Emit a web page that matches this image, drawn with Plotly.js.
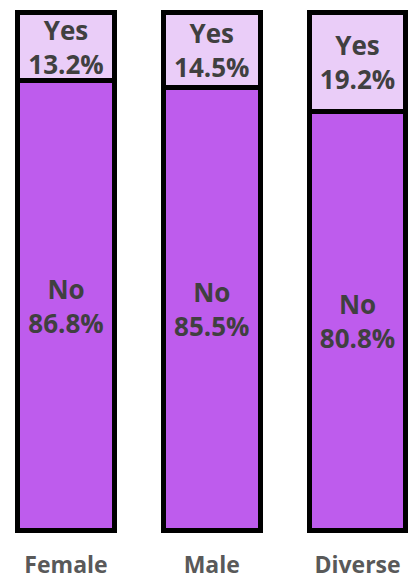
<!DOCTYPE html>
<html>
<head>
<meta charset="utf-8">
<script src="https://cdn.plot.ly/plotly-3.0.1.min.js"></script>
<style>html,body{margin:0;padding:0;background:#fff;}#chart{width:417px;height:581px;}</style>
</head>
<body>
<div id="chart"></div>
<script>
const categories = ["Female", "Male", "Diverse"];
const noValues = [86.8, 85.5, 80.8];
const yesValues = [13.2, 14.5, 19.2];
const noLabel = "No";
const yesLabel = "Yes";

const fmt = v => v.toFixed(1) + "%";
const common = {
  type: "bar",
  x: categories,
  width: 0.665,
  textposition: "inside",
  insidetextanchor: "middle",
  constraintext: "none",
  textangle: 0,
  hoverinfo: "none",
  textfont: {family: "Open Sans, sans-serif", size: 26, color: "#404040", weight: 700}
};
const traces = [
  Object.assign({}, common, {
    name: noLabel,
    y: noValues,
    text: noValues.map(v => noLabel + "<br>" + fmt(v)),
    marker: {color: "#BE5CED", line: {color: "#000000", width: 5}}
  }),
  Object.assign({}, common, {
    name: yesLabel,
    y: yesValues,
    text: yesValues.map(v => yesLabel + "<br>" + fmt(v)),
    marker: {color: "#EACDF8", line: {color: "#000000", width: 5}}
  })
];
const layout = {
  width: 417, height: 581,
  margin: {l: 0, r: 0, t: 10, b: 48, pad: 0},
  barmode: "stack",
  showlegend: false,
  paper_bgcolor: "#ffffff",
  plot_bgcolor: "#ffffff",
  xaxis: {
    range: [-0.4528, 2.408],
    showgrid: false, zeroline: false, showline: false,
    ticks: "", ticklabelstandoff: 16,
    tickfont: {family: "Open Sans, sans-serif", size: 23, color: "#595959", weight: 700}
  },
  yaxis: {
    range: [-0.48, 100.48],
    showgrid: false, zeroline: false, showline: false, showticklabels: false
  }
};
Plotly.newPlot("chart", traces, layout, {displayModeBar: false, staticPlot: true});
</script>
</body>
</html>
